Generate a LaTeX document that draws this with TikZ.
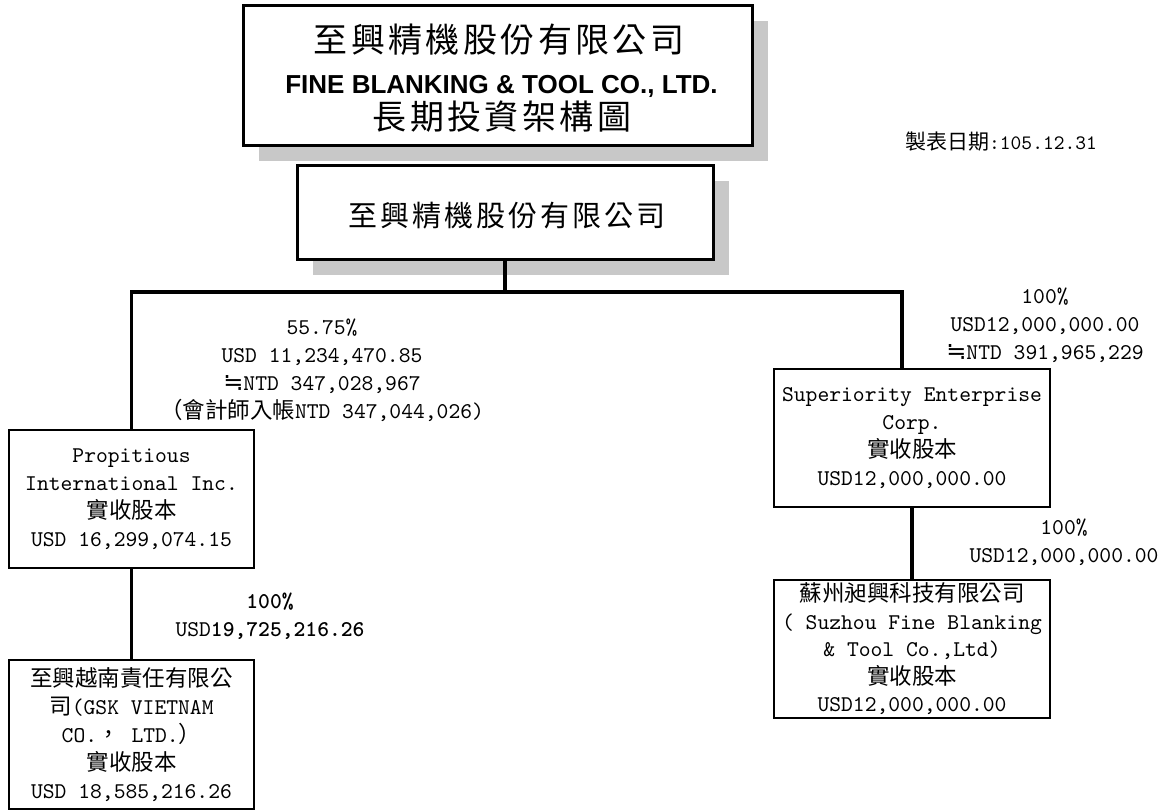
\documentclass[tikz,border=0pt]{standalone}
\usepackage{fontspec}
\setmonofont{lmmono10-regular.otf}[BoldFont=lmmonolt10-bold.otf]
\newfontfamily\cjk{Noto Sans CJK TC}
\newfontfamily\cjkt{Noto Sans CJK TC}[LetterSpace=10]
\newfontfamily\dejavu{DejaVu Sans}
\newfontfamily\arial{Liberation Sans}
\usetikzlibrary{shadows}
\definecolor{shadowgray}{RGB}{200,200,200}
\begin{document}
\begin{tikzpicture}[x=1pt,y=-1pt,
  mono/.style={font=\ttfamily\fontsize{22.5}{28}\selectfont},
  orgbox/.style={draw, line width=2pt, fill=white, inner sep=0pt, align=center, mono},
  conn/.style={line width=3.5pt},
  lbl/.style={align=center, inner sep=0pt, mono},
  txt/.style={inner sep=0pt},
  shad/.style={drop shadow={shadow xshift=16pt, shadow yshift=-16pt, fill=shadowgray, opacity=1}}
]
\useasboundingbox (0,0) rectangle (1166,811);

% title
\node[draw, line width=3pt, fill=white, shad, minimum width=509pt, minimum height=140pt, inner sep=0pt] (title) at (497.5,75) {};
\node[txt, font=\cjkt\fontsize{34}{38}\selectfont] (t1) at (499,40) {至興精機股份有限公司};
\node[txt, font=\arial\bfseries\fontsize{26}{30}\selectfont] (t2) at (501.5,86) {FINE BLANKING \& TOOL CO., LTD.};
\node[txt, font=\cjkt\fontsize{34}{38}\selectfont] (t3) at (502,117) {長期投資架構圖};

% date
\node[txt, font=\ttfamily\fontsize{20.5}{24}\selectfont] (date) at (1001,142) {{\cjk\fontsize{21}{24}\selectfont 製表日期}:105.12.31};

% main company
\node[draw, line width=3pt, fill=white, shad, minimum width=416pt, minimum height=94pt, inner sep=0pt] (main) at (505,212) {};
\node[txt, font=\cjkt\fontsize{29}{34}\selectfont] (mt) at (507,216) {至興精機股份有限公司};

% subsidiaries
\node[orgbox, minimum width=245pt, minimum height=138pt] (prop) at (131.5,499)
  {Propitious\\International Inc.\\{\cjk 實收股本}\\USD 16,299,074.15};
\node[orgbox, minimum width=245pt, minimum height=149pt] (viet) at (131.5,734.5)
  {{\cjk 至興越南責任有限公}\\{\cjk 司}(GSK VIETNAM\\CO.{\cjk ，} LTD.{\cjk ）}\\{\cjk 實收股本}\\USD 18,585,216.26};
\node[orgbox, minimum width=276pt, minimum height=138pt] (sup) at (912,438)
  {Superiority Enterprise\\Corp.\\{\cjk 實收股本}\\USD12,000,000.00};
\node[orgbox, minimum width=276pt, minimum height=138pt, font=\ttfamily\fontsize{22.5}{27.5}\selectfont] (suz) at (912,649)
  {{\cjk 蘇州昶興科技有限公司}\\( Suzhou Fine Blanking\\\& Tool Co.,Ltd)\\{\cjk 實收股本}\\USD12,000,000.00};

% connectors
\coordinate (bar) at (505,292);
\draw[conn] (main.south) -- (bar);
\draw[conn] (prop.north) |- (bar);
\draw[conn] ([xshift=-10pt]sup.north) |- (bar);
\draw[conn] (prop.south) -- (viet.north);
\draw[conn] (sup.south) -- (suz.north);

% labels
\node[lbl] (l1) at (322,370) {55.75\%\\USD 11,234,470.85\\{\dejavu\fontsize{24}{28}\selectfont ≒}NTD 347,028,967\\{\cjk （會計師入帳}NTD 347,044,026)};
\node[lbl] (l2) at (270,616) {\bfseries 100\%\\USD{\bfseries 19,725,216.26}};
\node[lbl] (l3) at (1045,325.5) {100\%\\USD12,000,000.00\\{\dejavu\fontsize{24}{28}\selectfont ≒}NTD 391,965,229};
\node[lbl] (l4) at (1064,542.5) {100\%\\USD12,000,000.00};
\end{tikzpicture}
\end{document}
